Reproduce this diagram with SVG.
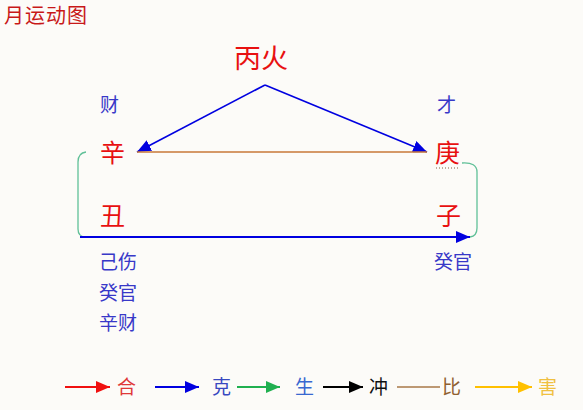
<svg xmlns="http://www.w3.org/2000/svg" width="583" height="410" viewBox="0 0 583 410">
<style>
text{font-family:"Noto Sans CJK SC","Noto Sans CJK JP",sans-serif;}
.node{fill:#E81010;font-size:25px;}
.lab{fill:#3838C8;font-size:19px;}
</style>
<defs>
<marker id="ab" markerWidth="14" markerHeight="12" refX="14" refY="6" orient="auto" markerUnits="userSpaceOnUse"><path d="M0,0 L14,6 L0,12 Z" fill="#0000E0"/></marker>
<marker id="ar" markerWidth="14" markerHeight="12" refX="14" refY="6" orient="auto" markerUnits="userSpaceOnUse"><path d="M0,0 L14,6 L0,12 Z" fill="#F01010"/></marker>
<marker id="ag" markerWidth="14" markerHeight="12" refX="14" refY="6" orient="auto" markerUnits="userSpaceOnUse"><path d="M0,0 L14,6 L0,12 Z" fill="#20B050"/></marker>
<marker id="ak" markerWidth="14" markerHeight="12" refX="14" refY="6" orient="auto" markerUnits="userSpaceOnUse"><path d="M0,0 L14,6 L0,12 Z" fill="#000000"/></marker>
<marker id="ay" markerWidth="14" markerHeight="12" refX="14" refY="6" orient="auto" markerUnits="userSpaceOnUse"><path d="M0,0 L14,6 L0,12 Z" fill="#FFC000"/></marker>
</defs>
<rect width="583" height="410" fill="#FCFBF8"/>
<text x="4" y="23" font-size="20" letter-spacing="1" fill="#C81818">月运动图</text>

<g id="connectors" fill="none">
<path d="M265,85 L137,152" stroke="#0000E0" stroke-width="1.6" marker-end="url(#ab)"/>
<path d="M265,85 L427,152" stroke="#0000E0" stroke-width="1.6" marker-end="url(#ab)"/>
<path d="M137,152 L427,152" stroke="#C87838" stroke-width="1.3"/>
<path d="M86,152 Q78,153 78,162 L78,229 Q78,237 86,237" stroke="#60C098" stroke-width="1.3"/>
<path d="M462,163 Q477,162 477,172 L477,228 Q477,236 470,237" stroke="#60C098" stroke-width="1.3"/>
<path d="M80,237 L470,237" stroke="#0000E0" stroke-width="2" marker-end="url(#ab)"/>
</g>

<g id="node-binghuo"><text x="234" y="68" font-size="27" fill="#E81010">丙火</text></g>
<g id="node-xin"><text class="node" x="100" y="162">辛</text><text class="lab" x="100" y="112">财</text></g>
<g id="node-geng"><text class="node" x="435" y="162">庚</text><text class="lab" x="437" y="112">才</text>
<line x1="436" y1="168" x2="460" y2="168" stroke="#806040" stroke-width="1" stroke-dasharray="1,2"/></g>
<g id="node-chou"><text class="node" x="100" y="225">丑</text>
<text class="lab" x="99" y="269">己伤</text>
<text class="lab" x="99" y="300">癸官</text>
<text class="lab" x="99" y="330">辛财</text></g>
<g id="node-zi"><text class="node" x="436" y="225">子</text>
<text class="lab" x="434" y="269">癸官</text></g>

<g id="legend">
<path d="M65,387 L110,387" stroke="#F01010" stroke-width="1.8" marker-end="url(#ar)"/>
<text x="117" y="394" font-size="19" fill="#E03838">合</text>
<path d="M155,387 L199,387" stroke="#0000E0" stroke-width="1.8" marker-end="url(#ab)"/>
<text x="212" y="394" font-size="19" fill="#3848C0">克</text>
<path d="M237,387 L280,387" stroke="#20B050" stroke-width="1.8" marker-end="url(#ag)"/>
<text x="295" y="394" font-size="19" fill="#3868D0">生</text>
<path d="M323,387 L363,387" stroke="#000000" stroke-width="1.8" marker-end="url(#ak)"/>
<text x="369" y="394" font-size="19" fill="#101010">冲</text>
<path d="M397,387 L440,387" stroke="#A87848" stroke-width="1.3"/>
<text x="442" y="394" font-size="19" fill="#906030">比</text>
<path d="M475,387 L532,387" stroke="#FFC000" stroke-width="1.8" marker-end="url(#ay)"/>
<text x="538" y="394" font-size="19" fill="#F0C040">害</text>
</g>
</svg>
